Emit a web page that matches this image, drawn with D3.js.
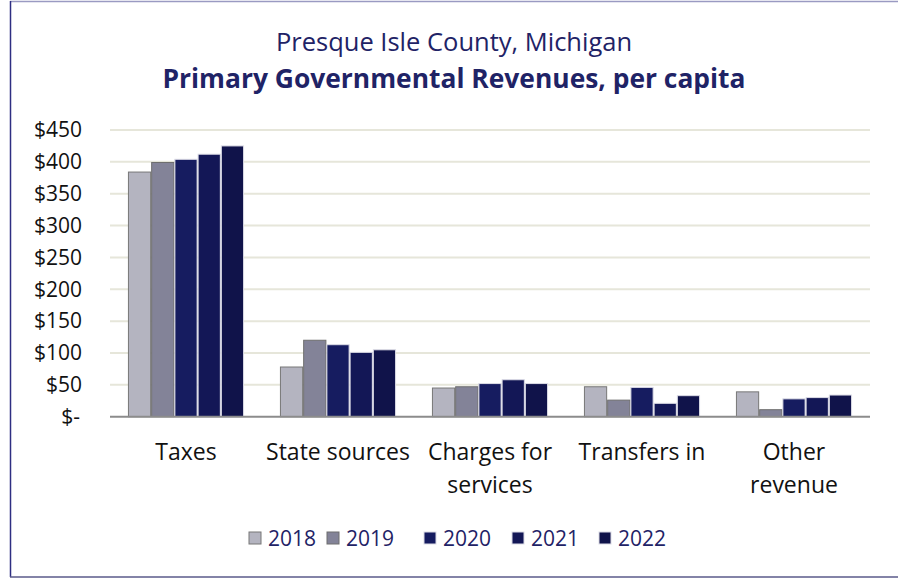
<!DOCTYPE html>
<html><head><meta charset="utf-8">
<script src="https://cdn.jsdelivr.net/npm/d3@7"></script>
<style>body{margin:0;background:#fff}svg{display:block}text{font-family:"Open Sans",sans-serif}</style>
</head><body><svg id="c" width="898" height="578"></svg>
<script>
const categories = [["Taxes"], ["State sources"], ["Charges for","services"], ["Transfers in"], ["Other","revenue"]];
const years = ["2018","2019","2020","2021","2022"];
const v2018 = [384, 78, 45, 47, 39];
const v2019 = [399, 120, 47, 26, 11];
const v2020 = [404, 113, 52, 46, 28];
const v2021 = [412, 101, 58, 21, 30];
const v2022 = [425, 105, 52, 33, 34];
const series = [v2018, v2019, v2020, v2021, v2022];
const yTicks = [0,50,100,150,200,250,300,350,400,450];
const colors = ["#b4b4c0","#838398","#161c60","#131756","#10134a"];
const strokes = ["#777777","#6e6e6e","#dcdce6","#dcdce6","#dcdce6"];

const svg = d3.select("#c");
// frame
svg.append("line").attr("x1",10).attr("x2",898).attr("y1",1.5).attr("y2",1.5).attr("stroke","#9a9ac2").attr("stroke-width",1.5);
svg.append("line").attr("x1",10.5).attr("x2",10.5).attr("y1",1).attr("y2",577).attr("stroke","#2e2e82").attr("stroke-width",1.5);
svg.append("line").attr("x1",10).attr("x2",898).attr("y1",577).attr("y2",577).attr("stroke","#5a5a8a").attr("stroke-width",1.5);

svg.append("text").attr("x",454).attr("y",51).attr("text-anchor","middle").attr("fill","#1f2366").attr("font-size",25.5).text("Presque Isle County, Michigan");
svg.append("text").attr("x",454).attr("y",88).attr("text-anchor","middle").attr("fill","#1f2366").attr("font-size",26.4).attr("font-weight","bold").text("Primary Governmental Revenues, per capita");

const x = d3.scaleBand().domain(d3.range(categories.length)).range([110,870]).paddingInner(0.236).paddingOuter(0.118);
const xs = d3.scaleBand().domain(d3.range(years.length)).range([0, x.bandwidth()]);
const y = d3.scaleLinear().domain([0,450]).range([416.7,130]);

const grid = svg.append("g");
grid.selectAll("line").data(yTicks.filter(d=>d>0)).join("line")
  .attr("x1",110).attr("x2",870).attr("y1",d=>y(d)).attr("y2",d=>y(d))
  .attr("stroke","#e6e6da").attr("stroke-width",2);

const yAxis = d3.axisLeft(y).tickValues(yTicks).tickSize(0).tickPadding(0)
  .tickFormat(d=> d===0 ? "$-" : "$"+d);
const ya = svg.append("g").attr("transform","translate(82,0)").call(yAxis);
ya.select(".domain").remove();
ya.selectAll("text").attr("font-size",21).attr("fill","#111").attr("font-family","Open Sans");
ya.selectAll(".tick").filter(d=>d===0).select("text").attr("dx",-2);

const g = svg.append("g");
series.forEach((vals, si) => {
  g.selectAll(null).data(vals).join("rect")
    .attr("x",(d,i)=>x(i)+xs(si)+0.5)
    .attr("width",xs.bandwidth()-1)
    .attr("y",d=>y(d))
    .attr("height",d=>y(0)-y(d))
    .attr("fill",colors[si]).attr("stroke",strokes[si]).attr("stroke-width",1);
});
svg.append("line").attr("x1",110).attr("x2",870).attr("y1",y(0)).attr("y2",y(0)).attr("stroke","#8c8c8c").attr("stroke-width",2);

const cl = svg.append("g");
categories.forEach((lines,i)=>{
  const t = cl.append("text").attr("x",x(i)+x.bandwidth()/2).attr("y",460).attr("text-anchor","middle").attr("font-size",23).attr("fill","#111");
  lines.forEach((ln,j)=> t.append("tspan").attr("x",x(i)+x.bandwidth()/2).attr("dy",j===0?0:33).text(ln));
});

const lgX = [249, 327, 424, 512, 599];
const lg = svg.append("g");
years.forEach((yr,i)=>{
  lg.append("rect").attr("x",lgX[i]).attr("y",532).attr("width",12).attr("height",12).attr("fill",colors[i]).attr("stroke",strokes[i]);
  lg.append("text").attr("x",lgX[i]+19).attr("y",546).attr("font-size",21).attr("fill","#1f2366").text(yr);
});
</script></body></html>
